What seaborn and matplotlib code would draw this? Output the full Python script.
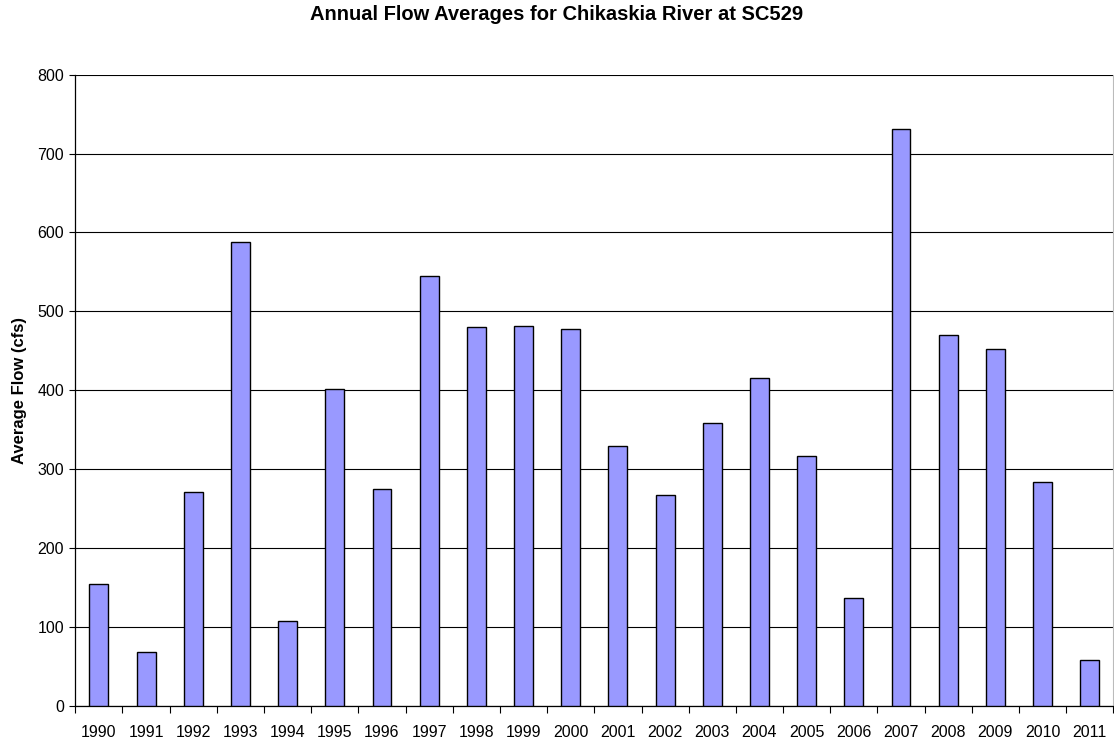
import matplotlib
matplotlib.use("Agg")
import matplotlib.pyplot as plt
from matplotlib.ticker import FixedLocator, MultipleLocator
import seaborn as sns
import pandas as pd

years = ["1990", "1991", "1992", "1993", "1994", "1995", "1996", "1997",
         "1998", "1999", "2000", "2001", "2002", "2003", "2004", "2005",
         "2006", "2007", "2008", "2009", "2010", "2011"]
flow_cfs = [154, 68, 271, 588, 107, 401, 275, 545,
            480, 481, 477, 329, 267, 359, 416, 317,
            136, 731, 470, 452, 283, 58]

title = "Annual Flow Averages for Chikaskia River at SC529"
y_label = "Average Flow (cfs)"

sns.set_theme(style="white")
plt.rcParams["font.family"] = ["Liberation Sans", "DejaVu Sans"]
plt.rcParams["text.color"] = "black"
plt.rcParams["axes.labelcolor"] = "black"

df = pd.DataFrame({"Year": years, "Flow": flow_cfs})

fig = plt.figure(figsize=(11.14, 7.40), dpi=100)
ax = fig.add_axes([0.0676, 0.0464, 0.9318, 0.8527])

sns.barplot(data=df, x="Year", y="Flow", ax=ax, color="#9999FF",
            saturation=1, width=0.4, edgecolor="black", linewidth=1.0,
            zorder=3)

ax.set_ylim(0, 800)
ax.set_xlim(-0.5, len(years) - 0.5)
ax.yaxis.set_major_locator(MultipleLocator(100))
ax.grid(axis="y", color="black", linewidth=0.8, zorder=0)
ax.set_axisbelow(True)

# category boundary ticks on the x axis
ax.xaxis.set_minor_locator(FixedLocator([i - 0.5 for i in range(len(years) + 1)]))
ax.tick_params(axis="x", which="major", length=0, pad=14, labelsize=11.5,
               colors="black")
ax.tick_params(axis="x", which="minor", bottom=True, length=5, width=0.8,
               direction="out", color="black")
ax.tick_params(axis="y", which="major", left=True, length=4, width=0.8,
               direction="out", pad=4, labelsize=11.5, colors="black")

for side in ["left", "bottom"]:
    ax.spines[side].set_color("black")
    ax.spines[side].set_linewidth(0.9)
ax.spines["top"].set_visible(False)
ax.spines["right"].set_color("#BBBBBB")
ax.spines["right"].set_linewidth(0.8)

ax.set_xlabel("")
ax.set_ylabel(y_label, fontsize=12, fontweight="bold", color="black")
ax.yaxis.set_label_coords(-0.047, 0.5)

fig.text(0.5, 1 - 15 / 740, title, ha="center", va="center",
         fontsize=14.5, fontweight="bold", color="black")

fig.savefig("out.png", dpi=100)
